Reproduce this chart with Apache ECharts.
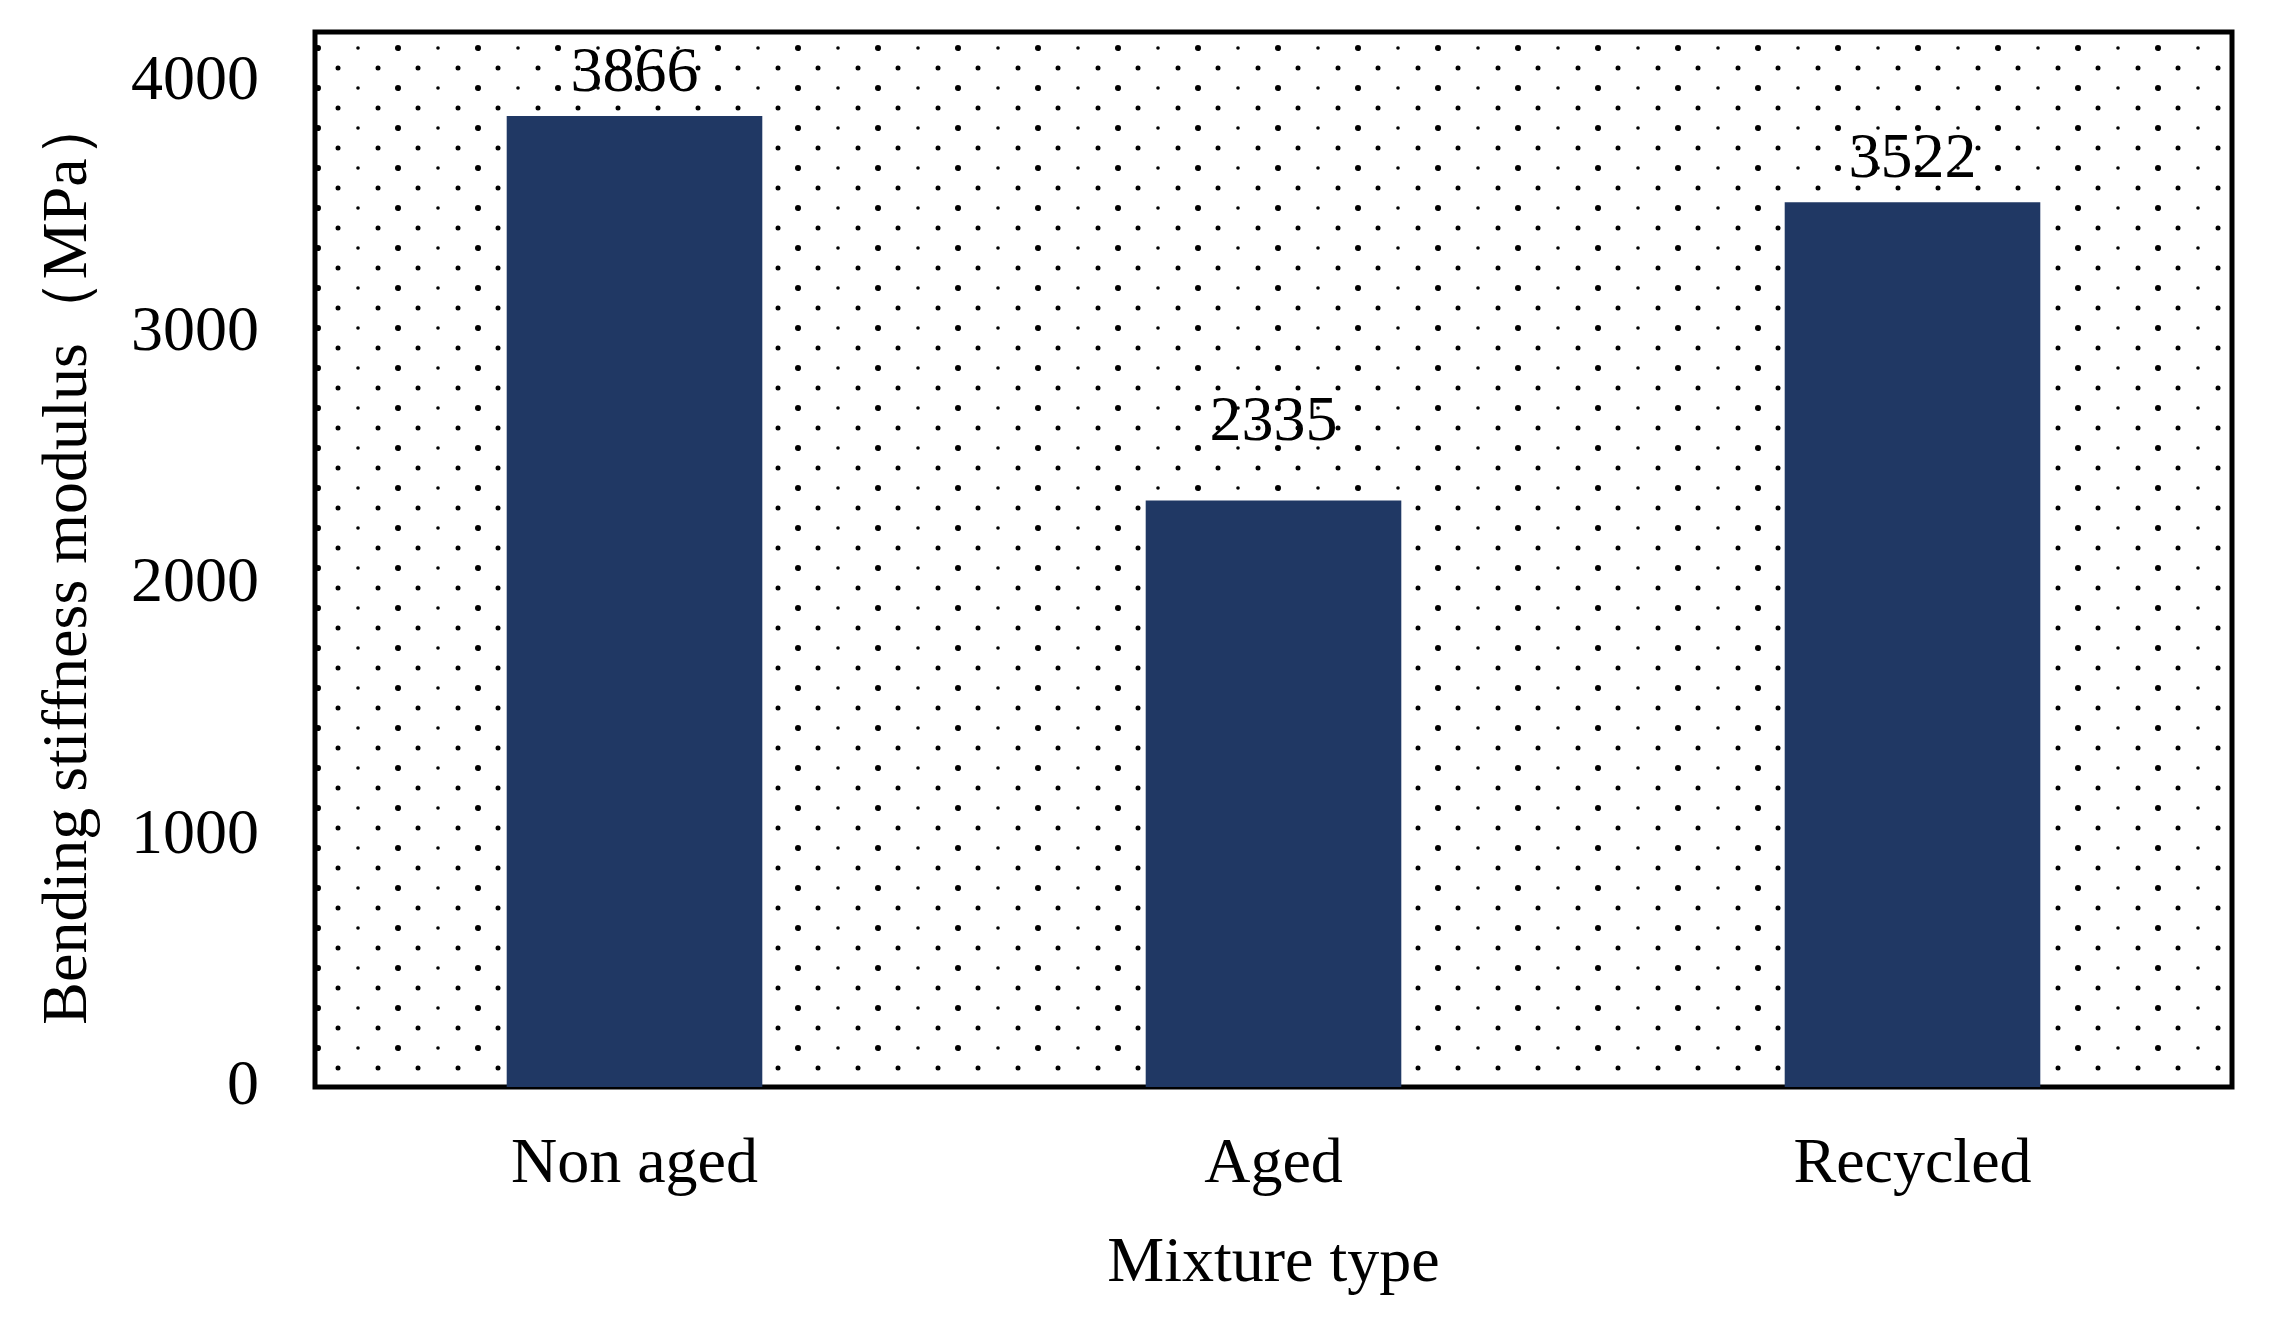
<!DOCTYPE html>
<html><head><meta charset="utf-8">
<script src="https://cdn.jsdelivr.net/npm/echarts@6/dist/echarts.min.js"></script>
<style>html,body{margin:0;padding:0;background:#fff}#c{width:2272px;height:1323px}</style>
</head><body><div id="c"></div>
<script>
const categories = ['Non aged', 'Aged', 'Recycled'];
const stiffness = [3866, 2335, 3522];
const yTicks = [0, 1000, 2000, 3000, 4000];

function dotPattern() {
  const c = document.createElement('canvas');
  c.width = 80; c.height = 40;
  const g = c.getContext('2d');
  g.fillStyle = '#000';
  const dot = (x, y, r) => {
    for (const dx of [-80, 0, 80]) for (const dy of [-40, 0, 40]) {
      g.beginPath(); g.arc(x + dx, y + dy, r, 0, Math.PI * 2); g.fill();
    }
  };
  dot(78, 8, 3.0); dot(38, 8, 1.8);
  dot(18, 28, 2.5); dot(58, 28, 2.5);
  return { image: c, repeat: 'repeat' };
}

const font = '"Liberation Serif", "Times New Roman", serif';
const extraGap = { 'Aged': 45 };
const chart = echarts.init(document.getElementById('c'));
chart.setOption({
  animation: false,
  backgroundColor: '#fff',
  grid: {
    left: 315, right: 40, top: 32, bottom: 236,
    show: true, backgroundColor: dotPattern(),
    borderColor: '#000', borderWidth: 5
  },
  xAxis: {
    type: 'category', data: categories,
    axisLine: { show: false }, axisTick: { show: false },
    axisLabel: { fontFamily: font, fontSize: 64, color: '#000', margin: 46 },
    name: 'Mixture type', nameLocation: 'middle', nameGap: 145,
    nameTextStyle: { fontFamily: font, fontSize: 64, color: '#000' }
  },
  yAxis: {
    type: 'value', min: yTicks[0], max: 4200, interval: 1000,
    axisLine: { show: false }, axisTick: { show: false }, splitLine: { show: false },
    axisLabel: {
      fontFamily: font, fontSize: 64, color: '#000', margin: 56, showMaxLabel: false,
      formatter: v => yTicks.includes(v) ? String(v) : ''
    },
    name: 'Bending stiffness modulus（MPa）', nameLocation: 'middle', nameGap: 214,
    nameTextStyle: { fontFamily: font, fontSize: 64, color: '#000' }
  },
  series: [{
    type: 'bar', barWidth: '40%',
    itemStyle: { color: '#203864' },
    data: stiffness.map((v, i) => ({
      value: v,
      label: { distance: extraGap[categories[i]] || 10 }
    })),
    label: {
      show: true, position: 'top', distance: 10,
      fontFamily: font, fontSize: 64, color: '#000'
    }
  }]
});
</script></body></html>
